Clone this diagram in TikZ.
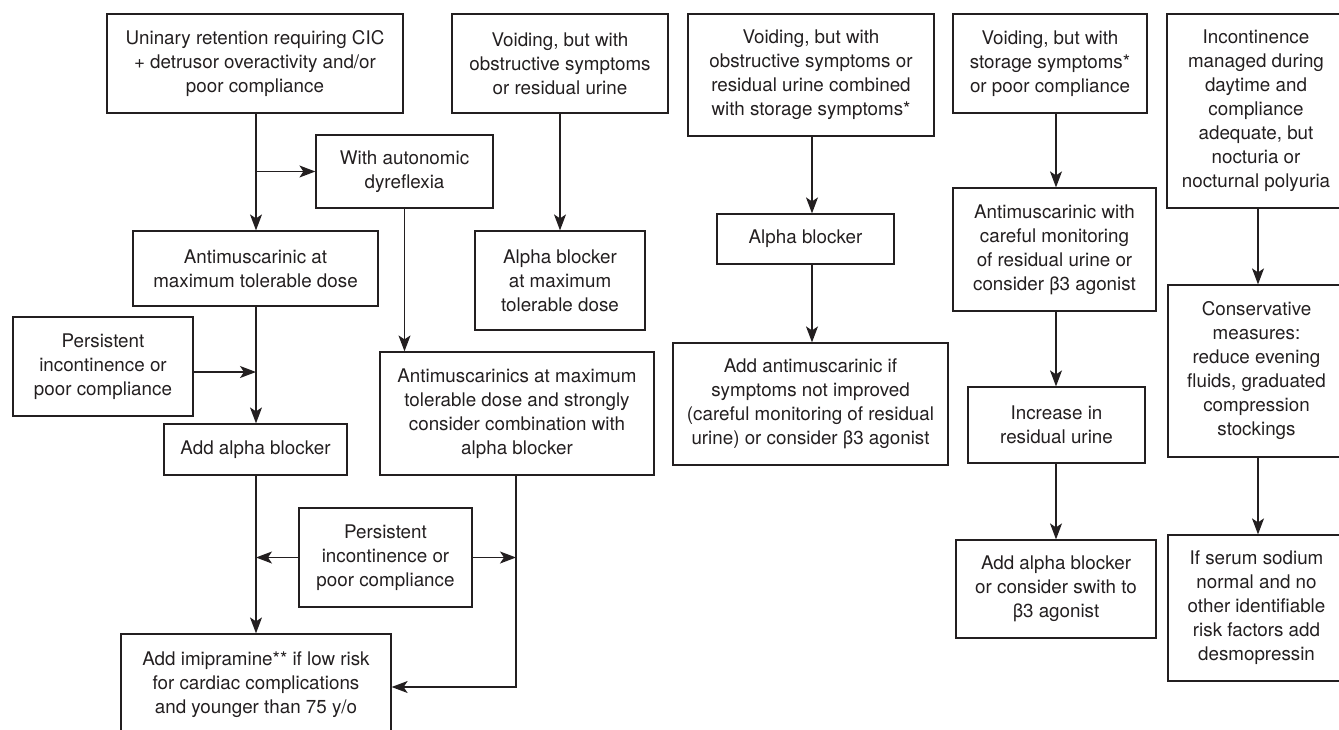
\documentclass[tikz,border=0pt]{standalone}
\usepackage{fontspec}
\setmainfont{TeX Gyre Heros}
\usetikzlibrary{arrows.meta}
\definecolor{ink}{RGB}{35,31,32}
\begin{document}
\begin{tikzpicture}[x=1pt,y=-1pt,
  box/.style={draw=ink, line width=1.25pt, inner sep=0pt, align=center, text=ink,
    font=\fontsize{18.8}{24}\selectfont},
  arr/.style={draw=ink, line width=1.25pt, -{Stealth[length=16pt,width=12pt,inset=4pt]}},
  ln/.style={draw=ink, line width=1.25pt}]
\useasboundingbox (0,0) rectangle (1339,729);
\clip (0,0) rectangle (1339,729);
% top row
\node[box, minimum width=296pt, minimum height=99pt] (A) at (255,63.5) {Uninary retention requiring CIC\\+ detrusor overactivity and/or\\poor compliance};
\node[box, minimum width=216pt, minimum height=99pt] (D) at (560,63.5) {Voiding, but with\\obstructive symptoms\\or residual urine};
\node[box, minimum width=246pt, minimum height=122pt] (G) at (811,75) {Voiding, but with\\obstructive symptoms or\\residual urine combined\\with storage symptoms*};
\node[box, minimum width=194pt, minimum height=99pt] (J) at (1050,63.5) {Voiding, but with\\storage symptoms*\\or poor compliance};
\node[box, minimum width=178pt, minimum height=194pt] (M) at (1256,111) {Incontinence\\managed during\\daytime and\\compliance\\adequate, but\\nocturia or\\nocturnal polyuria};
% second
\node[box, minimum width=177pt, minimum height=73pt] (B) at (404.5,171.5) {With autonomic\\dyreflexia};
\node[box, minimum width=245pt, minimum height=75pt] (C) at (255.5,268.5) {Antimuscarinic at\\maximum tolerable dose};
\node[box, minimum width=170pt, minimum height=99pt] (F) at (560,280.5) {Alpha blocker\\at maximum\\tolerable dose};
\node[box, minimum width=177pt, minimum height=50pt] (H) at (805.5,239) {Alpha blocker};
\node[box, minimum width=203pt, minimum height=123pt] (Q) at (1054.5,249.5) {Antimuscarinic with\\careful monitoring\\of residual urine or\\consider β3 agonist};
\node[box, minimum width=177pt, minimum height=172pt] (N) at (1256.5,371) {Conservative\\measures:\\reduce evening\\fluids, graduated\\compression\\stockings};
% third
\node[box, minimum width=180pt, minimum height=99pt] (P1) at (103,366.5) {Persistent\\incontinence or\\poor compliance};
\node[box, minimum width=274pt, minimum height=123pt] (E) at (517,413.5) {Antimuscarinics at maximum\\tolerable dose and strongly\\consider combination with\\alpha blocker};
\node[box, minimum width=275pt, minimum height=122pt] (AA) at (810.5,404) {Add antimuscarinic if\\symptoms not improved\\(careful monitoring of residual\\urine) or consider β3 agonist};
\node[box, minimum width=177pt, minimum height=76pt] (R) at (1056.5,425) {Increase in\\residual urine};
\node[box, minimum width=183pt, minimum height=51pt] (K) at (255.5,449.5) {Add alpha blocker};
\node[box, minimum width=173pt, minimum height=99pt] (P2) at (385.5,557.5) {Persistent\\incontinence or\\poor compliance};
\node[box, minimum width=200pt, minimum height=98pt] (S) at (1056,589) {Add alpha blocker\\or consider swith to\\β3 agonist};
\node[box, minimum width=177pt, minimum height=146pt] (T) at (1256.5,608) {If serum sodium\\normal and no\\other identifiable\\risk factors add\\desmopressin};
\node[box, minimum width=270pt, minimum height=102pt] (I) at (256,685) {Add imipramine** if low risk\\for cardiac complications\\and younger than 75 y/o};
% column coordinates
\coordinate (cA) at (256,0);
\coordinate (cG) at (812,0);
\coordinate (cJ) at (1056,0);
\coordinate (cM) at (1258,0);
\coordinate (cE) at (516,0);
% connectors left
\draw[arr] (A.south -| cA) -- (C.north -| cA);
\draw[arr] (B.west -| cA) -- (B.west);
\draw[arr] (C.south -| cA) -- (K.north -| cA);
\draw[arr] ([yshift=-5.5pt]P1.east) -- ([yshift=-5.5pt]P1.east -| cA);
\draw[arr] (B.south) -- (B.south |- E.north);
\draw[arr] (K.south -| cA) -- (I.north -| cA);
\draw[arr] (P2.west) -- (P2.west -| cA);
\draw[arr] (P2.east) -- (P2.east -| cE);
\draw[arr] (E.south -| cE) |- ([yshift=-2pt]I.east);
% column D
\draw[arr] (D.south) -- (F.north);
% column G
\draw[arr] (G.south -| cG) -- (H.north -| cG);
\draw[arr] (H.south -| cG) -- (AA.north -| cG);
% column J
\draw[arr] (J.south -| cJ) -- (Q.north -| cJ);
\draw[arr] (Q.south -| cJ) -- (R.north -| cJ);
\draw[arr] (R.south -| cJ) -- (S.north -| cJ);
% column M
\draw[arr] (M.south -| cM) -- (N.north -| cM);
\draw[arr] (N.south -| cM) -- (T.north -| cM);
\end{tikzpicture}
\end{document}
